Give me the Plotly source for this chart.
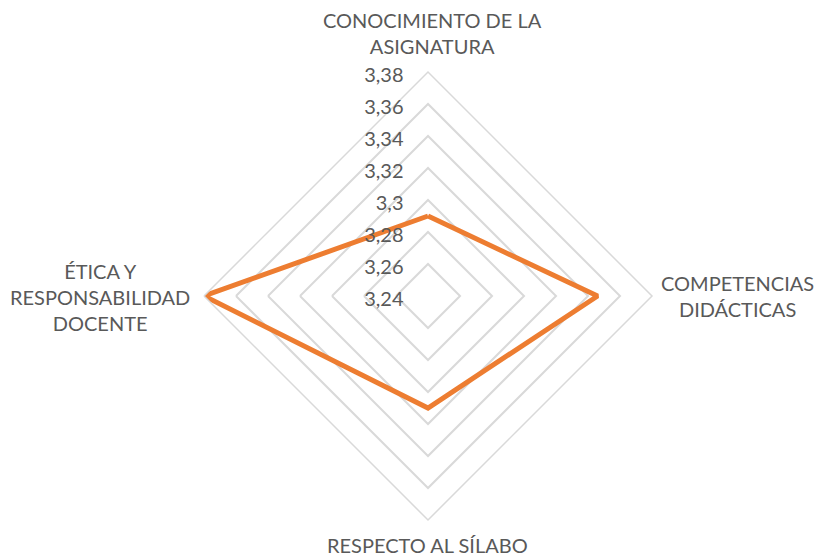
import plotly.graph_objects as go

# Categories and averages
categorias = ["CONOCIMIENTO DE LA<br>ASIGNATURA", "COMPETENCIAS<br>DIDÁCTICAS",
              "RESPECTO AL SÍLABO", "ÉTICA Y<br>RESPONSABILIDAD<br>DOCENTE"]
promedios = [3.29, 3.346, 3.31, 3.38]

tick_vals = [3.24, 3.26, 3.28, 3.30, 3.32, 3.34, 3.36, 3.38]
tick_text = ["3,24", "3,26", "3,28", "3,3", "3,32", "3,34", "3,36", "3,38"]

gris = "#d9d9d9"
texto = "#595959"

W, H = 820, 558
L, R, T, B = 204, 168, 72, 38

fig = go.Figure()
fig.add_trace(go.Scatterpolar(
    r=promedios + promedios[:1],
    theta=categorias + categorias[:1],
    mode="lines",
    line=dict(color="#ED7D31", width=5),
    showlegend=False,
))

# category labels placed like the Excel ones (pixel centres -> paper coords)
pos_etiquetas = [(432, 33), (737, 296), (427, 545), (100, 297)]
for cat, (px, py) in zip(categorias, pos_etiquetas):
    fig.add_annotation(
        text=cat, xref="paper", yref="paper",
        x=(px - L) / (W - L - R), y=(H - B - py) / (H - T - B),
        xanchor="center", yanchor="middle", align="center",
        showarrow=False, font=dict(size=20, color=texto),
    )

fig.update_layout(
    width=W, height=H,
    margin=dict(l=L, r=R, t=T, b=B, autoexpand=False),
    paper_bgcolor="white",
    font=dict(family="Lato", color=texto, size=20),
    polar=dict(
        bgcolor="white",
        gridshape="linear",
        radialaxis=dict(
            range=[3.24, 3.38], tickvals=tick_vals, ticktext=tick_text,
            angle=90, side="counterclockwise",
            showline=False, gridcolor=gris, gridwidth=1.5,
            ticks="outside", ticklen=6, tickcolor="rgba(0,0,0,0)",
            tickfont=dict(size=20, color=texto),
        ),
        angularaxis=dict(
            rotation=90, direction="clockwise",
            showgrid=False, showline=True, linecolor=gris, linewidth=1.5,
            ticks="", showticklabels=False,
        ),
    ),
)

# drop the browser's default 8px body margin so the figure sits at 0,0
fig.write_html("out.html", config={"displayModeBar": False},
               post_script="document.body.style.margin='0';")
